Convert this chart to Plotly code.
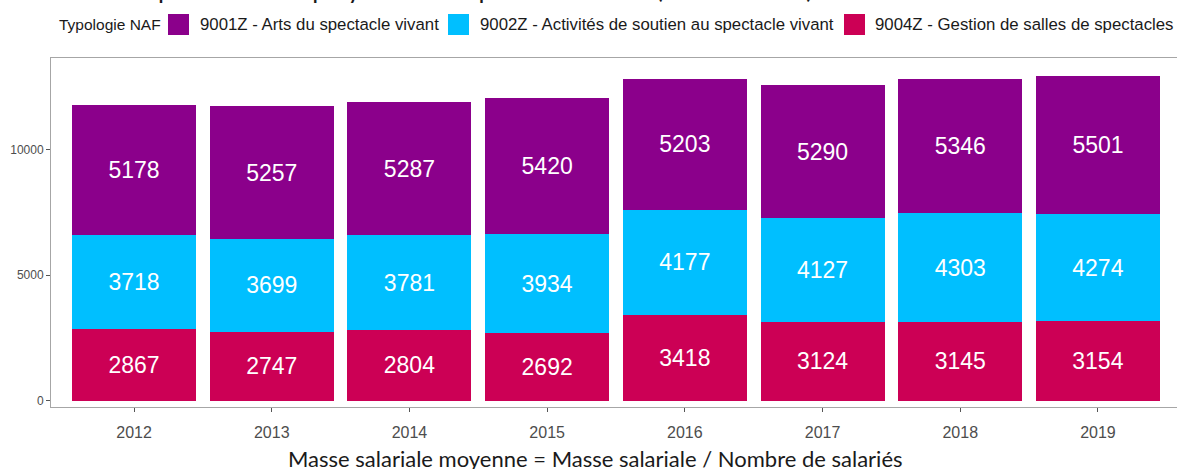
import plotly.graph_objects as go

# ---- data ----
years = ["2012", "2013", "2014", "2015", "2016", "2017", "2018", "2019"]
gestion_9004Z = [2867, 2747, 2804, 2692, 3418, 3124, 3145, 3154]
soutien_9002Z = [3718, 3699, 3781, 3934, 4177, 4127, 4303, 4274]
arts_9001Z = [5178, 5257, 5287, 5420, 5203, 5290, 5346, 5501]
series_names = ["9001Z - Arts du spectacle vivant",
                "9002Z - Activités de soutien au spectacle vivant",
                "9004Z - Gestion de salles de spectacles"]
legend_title = "Typologie NAF"
y_ticks = [0, 5000, 10000]
y_tick_labels = ["0", "5000", "10000"]
title_text = "Coût du personnel employé dans le spectacle vivant (2012 - 2019)"
caption_text = "Masse salariale moyenne = Masse salariale / Nombre de salariés"

# ---- style ----
W, H = 1177, 469
L, R, T, B = 51, 0, 58, 62
colors = {"arts": "#8B008B", "soutien": "#00BFFF", "gestion": "#CC0055"}
AX_FONT = "Liberation Sans, Arial, sans-serif"

pw = W - L - R
ph = H - T - B


def px_x(px):
    return (px - L) / pw


def px_y(py):
    return (H - B - py) / ph


fig = go.Figure()
for vals, key, name in [(gestion_9004Z, "gestion", series_names[2]),
                        (soutien_9002Z, "soutien", series_names[1]),
                        (arts_9001Z, "arts", series_names[0])]:
    fig.add_trace(go.Bar(
        x=years, y=vals, name=name,
        marker=dict(color=colors[key], line=dict(width=0)),
        text=[str(v) for v in vals],
        textposition="inside", insidetextanchor="middle", textangle=0,
        textfont=dict(family=AX_FONT, size=23, color="white"),
        width=0.9, showlegend=False,
    ))

fig.update_layout(
    barmode="stack",
    width=W, height=H,
    margin=dict(l=L, r=R, t=T, b=B, pad=0),
    paper_bgcolor="white", plot_bgcolor="white",
    font=dict(family=AX_FONT),
)
fig.update_xaxes(
    type="category", range=[-0.603, 7.574],
    showline=True, mirror=True, linecolor="#a6a6a6", linewidth=1,
    ticks="outside", ticklen=4, tickcolor="#555555",
    tickfont=dict(size=16, color="#4d4d4d"), ticklabelstandoff=7,
    showgrid=False, zeroline=False,
)
fig.update_yaxes(
    range=[-251, 13632], tickvals=y_ticks, ticktext=y_tick_labels,
    showline=True, mirror=False, linecolor="#a6a6a6", linewidth=1,
    ticks="outside", ticklen=4, tickcolor="#555555",
    tickfont=dict(size=12, color="#4d4d4d"),
    showgrid=False, zeroline=False,
)

# ---- manual legend ----
ann = []
shapes = []
ann.append(dict(text=legend_title, x=px_x(57), y=px_y(25), xref="paper", yref="paper",
                xanchor="left", yanchor="middle", showarrow=False,
                font=dict(family=AX_FONT, size=15.5, color="#1a1a1a")))
leg_items = [(168, 198, colors["arts"], series_names[0]),
             (448, 478, colors["soutien"], series_names[1]),
             (844, 873, colors["gestion"], series_names[2])]
for sx, tx, col, name in leg_items:
    shapes.append(dict(type="rect", xref="paper", yref="paper",
                       x0=px_x(sx), x1=px_x(sx + 21), y0=px_y(35), y1=px_y(14),
                       fillcolor=col, line=dict(width=0)))
    ann.append(dict(text=name, x=px_x(tx), y=px_y(25), xref="paper", yref="paper",
                    xanchor="left", yanchor="middle", showarrow=False,
                    font=dict(family=AX_FONT, size=16.8, color="#1a1a1a")))

# cut-off title at very top
ann.append(dict(text=title_text, x=px_x(58), y=px_y(9), yshift=3, xref="paper", yref="paper",
                xanchor="left", yanchor="bottom", showarrow=False,
                font=dict(family="Lato, Open Sans, sans-serif", size=26, color="#1a1a1a")))
# caption
ann.append(dict(text=caption_text, x=px_x(595), y=px_y(458), xref="paper", yref="paper",
                xanchor="center", yanchor="middle", showarrow=False,
                font=dict(family="Lato, Open Sans, sans-serif", size=22, color="#1a1a1a")))

fig.update_layout(annotations=ann, shapes=shapes)
fig.write_html("out.html", config={"displayModeBar": False},
               post_script="document.body.style.margin='0';document.body.style.overflow='hidden';")
